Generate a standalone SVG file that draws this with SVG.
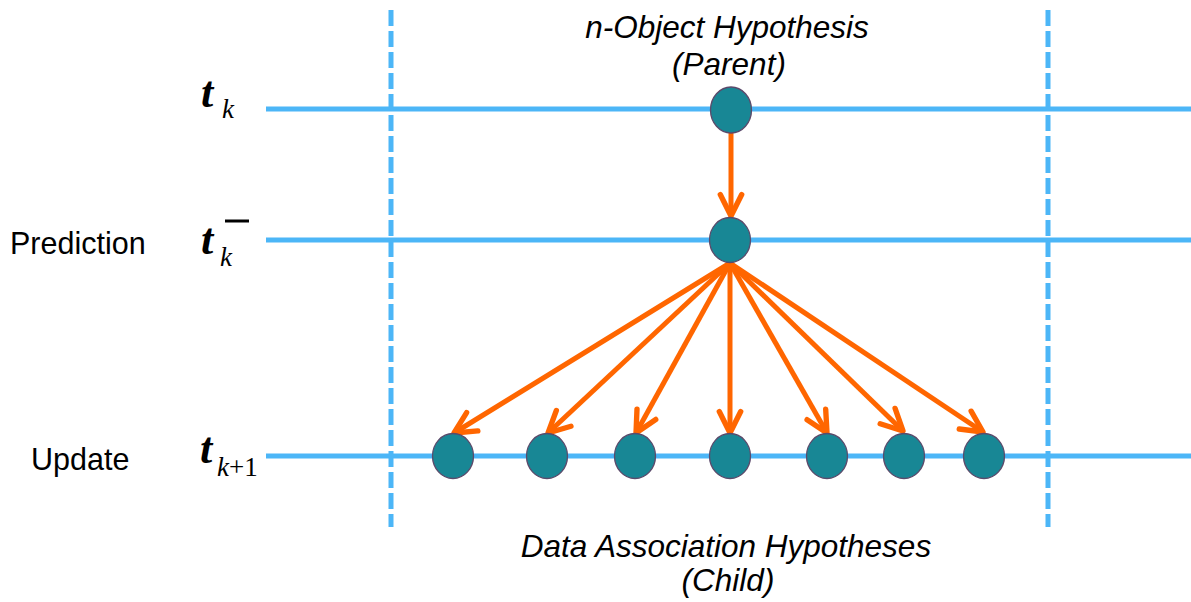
<svg xmlns="http://www.w3.org/2000/svg" width="1191" height="602" viewBox="0 0 1191 602">
<style>
.tl{stroke:#4cb6f7;stroke-width:5;fill:none}
.dash{stroke:#4cb6f7;stroke-width:5;fill:none;stroke-dasharray:16 5}
.node{fill:#188795;stroke:#5b4a6b;stroke-width:1.3}
.arr{stroke:#ff6600;stroke-width:5;fill:none;marker-end:url(#ah)}
.lbl{font-family:"Liberation Sans",Arial,sans-serif;font-size:30.5px;fill:#000}
.cap{font-family:"Liberation Sans",Arial,sans-serif;font-size:31.5px;font-style:italic;fill:#000;text-anchor:middle}
.tt{font-family:"Liberation Serif","Times New Roman",serif;font-size:44px;font-style:italic;font-weight:bold;fill:#000}
.sub{font-family:"Liberation Serif","Times New Roman",serif;font-size:27px;font-style:italic;fill:#000}
</style>
<defs>
<marker id="ah" markerUnits="userSpaceOnUse" markerWidth="30" markerHeight="30" viewBox="-24 -14 28 28" refX="0" refY="0" orient="auto">
<path d="M-20,-10 L0,0 L-20,10" stroke="#ff6600" stroke-width="5" fill="none" stroke-linecap="round" stroke-linejoin="round"/>
</marker>
</defs>
<g id="timelines">
<line class="tl" x1="266" y1="109" x2="1191" y2="109"/>
<line class="tl" x1="266" y1="240" x2="1191" y2="240"/>
<line class="tl" x1="266" y1="456" x2="1191" y2="456"/>
<line class="dash" x1="391" y1="10" x2="391" y2="527"/>
<line class="dash" x1="1048" y1="10" x2="1048" y2="527"/>
</g>
<g id="labels">
<text class="lbl" x="10" y="254">Prediction</text>
<text class="lbl" x="31" y="470">Update</text>
<text class="tt" x="201" y="107">t</text><text class="sub" x="222" y="118">k</text>
<text class="tt" x="201" y="254">t</text><text class="sub" x="220" y="266">k</text>
<line x1="225" y1="221" x2="249" y2="221" stroke="#000" stroke-width="3"/>
<text class="tt" x="200" y="463">t</text><text class="sub" x="217" y="476">k<tspan font-style="normal">+1</tspan></text>
<text class="cap" x="727" y="38">n-Object Hypothesis</text>
<text class="cap" x="729" y="75">(Parent)</text>
<text class="cap" x="726" y="557">Data Association Hypotheses</text>
<text class="cap" x="728" y="591">(Child)</text>
</g>
<g id="connectors">
<line class="arr" x1="731" y1="133" x2="731" y2="216"/>
<line class="arr" x1="730" y1="263" x2="454" y2="433"/>
<line class="arr" x1="730" y1="263" x2="548" y2="433"/>
<line class="arr" x1="730" y1="263" x2="636" y2="433"/>
<line class="arr" x1="730" y1="263" x2="730" y2="433"/>
<line class="arr" x1="730" y1="263" x2="827" y2="433"/>
<line class="arr" x1="730" y1="263" x2="903" y2="431"/>
<line class="arr" x1="730" y1="263" x2="983" y2="432"/>
</g>
<g id="parent"><ellipse class="node" cx="731" cy="110" rx="20.5" ry="23"/></g>
<g id="predicted"><ellipse class="node" cx="730" cy="240" rx="20.5" ry="22.5"/></g>
<g id="child1"><ellipse class="node" cx="453" cy="456" rx="20.5" ry="22.5"/></g>
<g id="child2"><ellipse class="node" cx="547" cy="456" rx="20.5" ry="22.5"/></g>
<g id="child3"><ellipse class="node" cx="635" cy="456" rx="20.5" ry="22.5"/></g>
<g id="child4"><ellipse class="node" cx="730" cy="456" rx="20.5" ry="22.5"/></g>
<g id="child5"><ellipse class="node" cx="827" cy="456" rx="20.5" ry="22.5"/></g>
<g id="child6"><ellipse class="node" cx="904" cy="456" rx="20.5" ry="22.5"/></g>
<g id="child7"><ellipse class="node" cx="984" cy="456" rx="20.5" ry="22.5"/></g>
</svg>
